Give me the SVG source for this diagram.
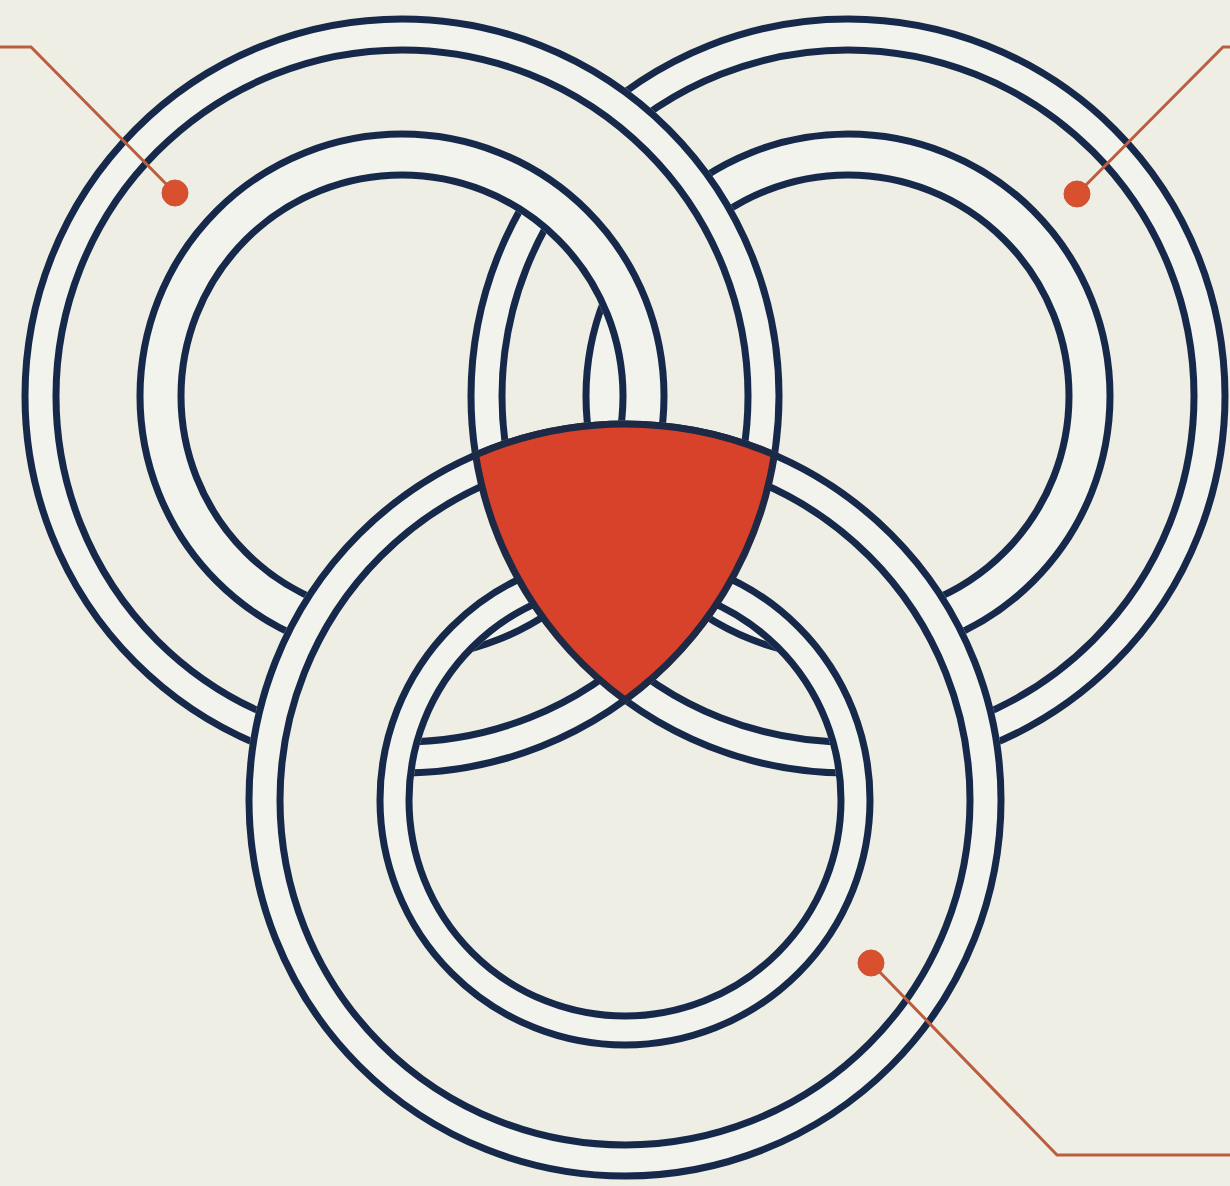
<svg xmlns="http://www.w3.org/2000/svg" width="1230" height="1186" viewBox="0 0 1230 1186">
<defs>
<style>
.bg{fill:#efeee4}
.ann{fill:none;stroke:#efeee4}
.band{fill:none;stroke:#f2f3ed}
.ln{fill:none;stroke:#16294a;stroke-width:7}
.lead{fill:none;stroke:#bb5e3e;stroke-width:3;stroke-linejoin:miter}
.dot{fill:#d9502e;stroke:#c8553a;stroke-width:1}
.core{fill:#d9422a;stroke:#1d2945;stroke-width:7;stroke-linejoin:miter}
</style>
</defs>
<rect class="bg" width="1230" height="1186"/>

<g id="ring-right">
<circle class="ann" cx="848" cy="396" r="299" stroke-width="163"/>
<circle class="band" cx="848" cy="396" r="361.5" stroke-width="31"/>
<circle class="band" cx="848" cy="396" r="241.5" stroke-width="41"/>
<circle class="ln" cx="848" cy="396" r="377"/>
<circle class="ln" cx="848" cy="396" r="346"/>
<circle class="ln" cx="848" cy="396" r="262"/>
<circle class="ln" cx="848" cy="396" r="221"/>
</g>

<g id="ring-left">
<circle class="ann" cx="402" cy="396" r="299" stroke-width="163"/>
<circle class="band" cx="402" cy="396" r="361.5" stroke-width="31"/>
<circle class="band" cx="402" cy="396" r="241.5" stroke-width="41"/>
<circle class="ln" cx="402" cy="396" r="377"/>
<circle class="ln" cx="402" cy="396" r="346"/>
<circle class="ln" cx="402" cy="396" r="262"/>
<circle class="ln" cx="402" cy="396" r="221"/>
</g>

<g id="ring-bottom">
<circle class="ann" cx="625" cy="800" r="296" stroke-width="167"/>
<circle class="band" cx="625" cy="800" r="360.5" stroke-width="31"/>
<circle class="band" cx="625" cy="800" r="230.5" stroke-width="29"/>
<circle class="ln" cx="625" cy="800" r="376"/>
<circle class="ln" cx="625" cy="800" r="345"/>
<circle class="ln" cx="625" cy="800" r="245"/>
<circle class="ln" cx="625" cy="800" r="216"/>
</g>

<g id="center-overlap">
<path class="core" d="M475.6,454.9 A376,376 0 0 1 774.4,454.9 A377,377 0 0 1 625,700 A377,377 0 0 1 475.6,454.9 Z"/>
</g>

<g id="connectors">
<g id="leader-left">
<path class="lead" d="M0,47 H31 L175,193"/>
<circle class="dot" cx="175" cy="193" r="13"/>
</g>
<g id="leader-right">
<path class="lead" d="M1230,47 H1223 L1077,194"/>
<circle class="dot" cx="1077" cy="194" r="13"/>
</g>
<g id="leader-bottom">
<path class="lead" d="M871,963 L1057,1155 H1230"/>
<circle class="dot" cx="871" cy="963" r="13"/>
</g>
</g>
</svg>
